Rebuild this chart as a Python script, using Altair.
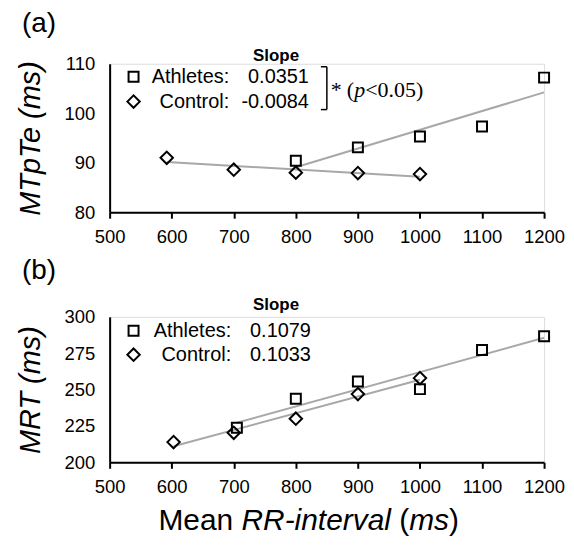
import altair as alt
import pandas as pd

# ---------------- data ----------------
x_ticks = [500, 600, 700, 800, 900, 1000, 1100, 1200]
groups = ["Athletes", "Control"]
group_labels = ["Athletes:", "Control:"]

# panel (a): MTpTe
rr_ath_a = [800, 900, 1000, 1100, 1200]
mtpte_ath = [90.4, 93.1, 95.3, 97.3, 107.2]
rr_con_a = [592, 700, 800, 900, 1000]
mtpte_con = [91.0, 88.6, 88.0, 87.9, 87.7]
slopes_a = ["0.0351", "-0.0084"]
y_ticks_a = [80, 90, 100, 110]

# panel (b): MRT
rr_ath_b = [705, 800, 900, 1000, 1100, 1200]
mrt_ath = [223.7, 243.7, 255.5, 250.3, 277.2, 286.7]
rr_con_b = [603, 700, 800, 900, 1000]
mrt_con = [213.9, 220.3, 230.0, 246.9, 257.9]
slopes_b = ["0.1079", "0.1033"]
y_ticks_b = [200, 225, 250, 275, 300]

FONT = "Liberation Sans"
SERIF = "Liberation Serif"
W = 436


def make_df(rr_a, v_a, rr_c, v_c):
    return pd.DataFrame({
        "rr": rr_a + rr_c,
        "v": v_a + v_c,
        "grp": ["Athletes"] * len(rr_a) + ["Control"] * len(rr_c),
    })


def txt(s, x, y, size=20, weight="normal", style="normal", align="left",
        font=FONT, baseline="middle"):
    return alt.Chart(pd.DataFrame({"t": [s]})).mark_text(
        font=font, fontSize=size, fontWeight=weight, fontStyle=style,
        align=align, baseline=baseline, color="black"
    ).encode(text="t:N", x=alt.value(x), y=alt.value(y))


def panel(df, H, ydom, yticks, ytitle, tag, tag_y, slopes, slope_y, rows_y,
          lab_right, val_right):
    xenc = alt.X("rr:Q", scale=alt.Scale(domain=[500, 1200], nice=False, zero=False),
                 axis=alt.Axis(values=x_ticks, title=None, grid=False, format="d",
                               domainColor="black", domainWidth=2,
                               tickColor="black", tickWidth=2, tickSize=6,
                               labelFont=FONT, labelFontSize=18.5, labelColor="black",
                               labelPadding=9, labelFlush=False, labelOverlap=False))
    yenc = alt.Y("v:Q", scale=alt.Scale(domain=ydom, nice=False, zero=False),
                 axis=alt.Axis(values=yticks, title=ytitle, grid=False,
                               domainColor="black", domainWidth=2, ticks=False,
                               labelFont=FONT, labelFontSize=18.5, labelColor="black",
                               labelPadding=15, labelFlush=False, labelOverlap=False,
                               titleFont=FONT, titleFontSize=29, titleFontStyle="italic",
                               titleFontWeight="normal", titleColor="black",
                               titlePadding=19))
    base = alt.Chart(df)
    lines = base.transform_regression("rr", "v", groupby=["grp"]).mark_line(
        color="#a8a8a8", strokeWidth=2
    ).encode(x=xenc, y=yenc, detail="grp:N")
    pts = base.mark_point(filled=False, color="black", strokeWidth=2, opacity=1).encode(
        x=xenc, y=yenc,
        shape=alt.Shape("grp:N", scale=alt.Scale(domain=groups, range=["square", "diamond"]), legend=None),
        size=alt.Size("grp:N", scale=alt.Scale(domain=groups, range=[100, 155]), legend=None),
    )
    layers = [lines, pts]
    # panel tag
    layers.append(txt(tag, -88, tag_y, size=28))
    # legend block
    layers.append(txt("Slope", 167, slope_y, size=17, weight="bold", align="center"))
    shapes = ["square", "diamond"]
    sizes = [100, 155]
    for i in range(2):
        layers.append(
            alt.Chart(pd.DataFrame({"g": [groups[i]]})).mark_point(
                shape=shapes[i], size=sizes[i], filled=False, color="black",
                strokeWidth=2, opacity=1
            ).encode(x=alt.value(24), y=alt.value(rows_y[i]))
        )
        layers.append(txt(group_labels[i], lab_right, rows_y[i], align="right"))
        layers.append(txt(slopes[i], val_right, rows_y[i], align="right"))
    return layers


df_a = make_df(rr_ath_a, mtpte_ath, rr_con_a, mtpte_con)
df_b = make_df(rr_ath_b, mrt_ath, rr_con_b, mrt_con)

HA = 149
HB = 146

layers_a = panel(df_a, HA, [80, 110], y_ticks_a, "MTpTe (ms)", "(a)", -40,
                 slopes_a, -8, [13, 38], 120, 200)
# significance bracket
bx = 218
layers_a.append(alt.Chart(pd.DataFrame({"k": [0]})).mark_rule(color="black", strokeWidth=1.5)
                .encode(x=alt.value(bx), y=alt.value(3), y2=alt.value(46)))
layers_a.append(alt.Chart(pd.DataFrame({"k": [0]})).mark_rule(color="black", strokeWidth=1.5)
                .encode(x=alt.value(bx - 6), x2=alt.value(bx), y=alt.value(3)))
layers_a.append(alt.Chart(pd.DataFrame({"k": [0]})).mark_rule(color="black", strokeWidth=1.5)
                .encode(x=alt.value(bx - 6), x2=alt.value(bx), y=alt.value(46)))
layers_a.append(txt("*", 222, 26, size=22, font=SERIF))
layers_a.append(txt("(", 238, 26, size=22, font=SERIF))
layers_a.append(txt("p", 245.5, 26, size=22, font=SERIF, style="italic"))
layers_a.append(txt("<0.05)", 256.5, 26, size=22, font=SERIF))

layers_b = panel(df_b, HB, [200, 300], y_ticks_b, "MRT (ms)", "(b)", -46,
                 slopes_b, -12, [14, 38], 122, 202)
# x-axis title with mixed styles
ty = HB + 68
FS = 30
layers_b.append(txt("Mean", 49, ty, size=FS, baseline="alphabetic"))
layers_b.append(txt("RR-interval", 49 + 2.778 * FS, ty, size=FS, style="italic", baseline="alphabetic"))
px0 = 49 + 2.778 * FS + 5.278 * FS
layers_b.append(txt("(", px0, ty, size=FS, baseline="alphabetic"))
layers_b.append(txt("ms", px0 + 0.333 * FS, ty, size=FS, style="italic", baseline="alphabetic"))
layers_b.append(txt(")", px0 + 1.666 * FS, ty, size=FS, baseline="alphabetic"))

pa = alt.layer(*layers_a).properties(width=W, height=HA)
pb = alt.layer(*layers_b).properties(width=W, height=HB)

chart = alt.vconcat(pa, pb, spacing=10).properties(
    padding={"left": 7, "top": 0, "right": 0, "bottom": 0}
).configure_view(stroke=None).configure(background="white")

chart.save("out.html", embed_options={"renderer": "svg", "actions": False})
